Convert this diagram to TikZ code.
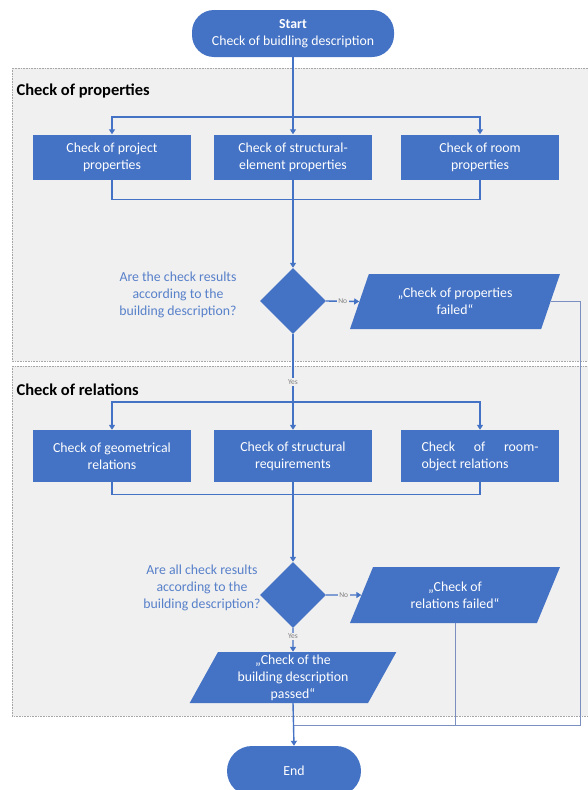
\documentclass[tikz,border=0pt]{standalone}
\usepackage{fontspec}
\setmainfont{Carlito}
\usetikzlibrary{positioning,shapes.geometric,arrows.meta}
\definecolor{flowblue}{HTML}{4472C4}
\definecolor{backblue}{HTML}{7B8FC0}
\definecolor{areagray}{HTML}{F0F0F0}

\begin{document}
\begin{tikzpicture}[x=1pt,y=-1pt,
    every node/.style={font=\fontsize{13.8}{17}\selectfont},
    terminal/.style={fill=flowblue,text=white,align=center,inner sep=2pt},
    task/.style={fill=flowblue,text=white,align=center,inner sep=2pt,minimum width=158pt},
    decision/.style={diamond,fill=flowblue,minimum width=66pt,minimum height=66pt,inner sep=0pt},
    question/.style={text=flowblue!90!white,align=center},
    report/.style={trapezium,trapezium left angle=66,trapezium right angle=114,
        trapezium stretches=true,fill=flowblue,text=white,align=center,inner sep=1pt},
    flow/.style={flowblue,line width=1.4pt,-{Triangle[width=6pt,length=5pt]}},
    link/.style={flowblue,line width=1.4pt},
    back/.style={backblue,line width=1pt},
    answer/.style={fill=areagray,text=gray,inner sep=1.5pt,font=\fontsize{7.5}{9}\selectfont},
    area/.style={fill=areagray,draw=gray!70,densely dotted,line width=0.6pt},
    heading/.style={anchor=west,font=\bfseries\fontsize{16.5}{19}\selectfont}]

    \useasboundingbox (0,0) rectangle (587,790);
    \fill[white] (0,0) rectangle (587,790);

    \draw[area] (12,68) rectangle (595,361);
    \draw[area] (12,366) rectangle (595,716);
    \node[heading] (props) at (13,91) {Check of properties};
    \node[heading] (rels) at (13,390) {Check of relations};

    \node[terminal,rounded corners=22pt,minimum width=202pt,minimum height=47pt] (start) at (293,33.5)
        {\textbf{Start}\\Check of buidling description};

    % check of properties
    \node[task,minimum height=45pt] (ptask1) at (112,157) {Check of project\\properties};
    \node[task,minimum height=45pt] (ptask2) at (293,157) {Check of structural-\\element properties};
    \node[task,minimum height=45pt] (ptask3) at (480,157) {Check of room\\properties};
    \node[decision] (pcheck) at (293,301) {};
    \node[question] (pquest) at (178,295) {Are the check results\\according to the\\building description?};
    \node[report,minimum width=210pt,minimum height=55pt] (pfail) at (455,301.5)
        {„Check of properties\\failed“};

    % check of relations
    \node[task,minimum height=52pt] (rtask1) at (112,456) {Check of geometrical\\relations};
    \node[task,minimum height=52pt] (rtask2) at (293,456) {Check of structural\\requirements};
    \node[task,minimum height=52pt,align=left] (rtask3) at (480,456)
        {\makebox[117pt][s]{Check of room-}\\object relations};
    \node[decision] (rcheck) at (293,595) {};
    \node[question] (rquest) at (202,588) {Are all check results\\according to the\\building description?};
    \node[report,minimum width=210pt,minimum height=56pt] (rfail) at (455,595)
        {„Check of\\relations failed“};
    \node[report,minimum width=207pt,minimum height=51pt] (pass) at (293,677.5)
        {„Check of the\\building description\\passed“};

    \node[terminal,rounded corners=25pt,minimum width=134pt,minimum height=50pt] (end) at (294,771) {End};

    \coordinate (pfork) at (293,117);
    \coordinate (rfork) at (293,402);
    \coordinate (ret) at (580,725);

    \draw[flow] (start.south) -- (ptask2.north);
    \foreach \n in {ptask1,ptask3} \draw[flow] (pfork) -| (\n.north);
    \draw[link] (ptask1.south) -- ++(0,20) -| (ptask3.south);
    \draw[flow] (ptask2.south) -- (pcheck.north);
    \draw[flow] (pcheck.east) -- node[answer] {No} (pfail.west);
    \draw[flow] (pcheck.south) -- node[answer] {Yes} (rtask2.north);

    \foreach \n in {rtask1,rtask3} \draw[flow] (rfork) -| (\n.north);
    \draw[link] (rtask1.south) -- ++(0,12) -| (rtask3.south);
    \draw[flow] (rtask2.south) -- (rcheck.north);
    \draw[flow] (rcheck.east) -- node[answer] {No} (rfail.west);
    \draw[flow] (rcheck.south) -- node[answer,pos=0.35] {Yes} (pass.north);

    \draw[back] (pfail.east) -| (ret) -- (pass.south |- ret);
    \draw[back] (rfail.south) -- (rfail.south |- ret);
    \draw[flow] (pass.south) -- (end.north);

\end{tikzpicture}
\end{document}
